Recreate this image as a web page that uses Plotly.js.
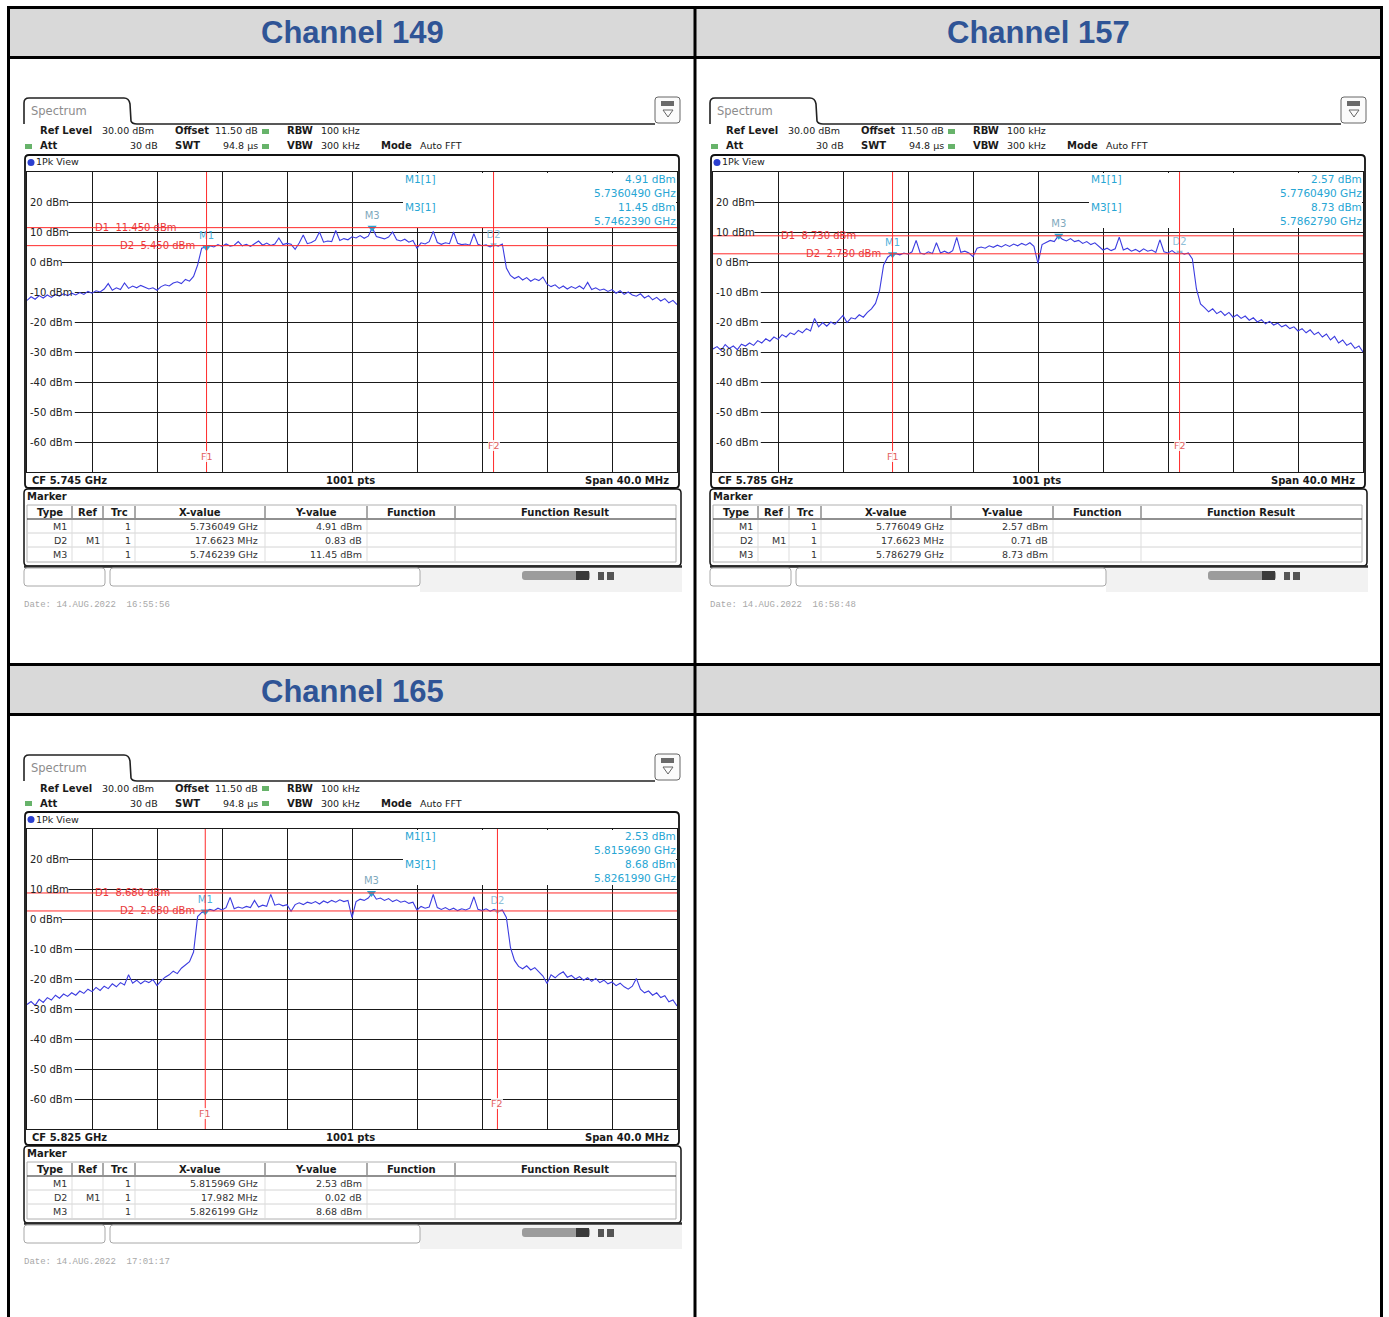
<!DOCTYPE html>
<html><head><meta charset="utf-8">
<script src="https://cdn.plot.ly/plotly-3.0.1.min.js"></script>
<style>html,body{margin:0;padding:0;background:#fff;}#chart{width:1389px;height:1317px;}</style>
</head><body><div id="chart"></div>
<script>
// ---------------- data ----------------
const channelTitles = ['Channel 149', 'Channel 157', 'Channel 165'];
const centerFreqGHz = [5.745, 5.785, 5.825];
const spanMHz = 40;
const sweepPointsLabel = '1001 pts';
const refLevelDbm = 30;
const bottomLevelDbm = -70;
const yTickLevels = [20, 10, 0, -10, -20, -30, -40, -50, -60];
const yTickLabels = ['20 dBm', '10 dBm', '0 dBm', '-10 dBm', '-20 dBm', '-30 dBm', '-40 dBm', '-50 dBm', '-60 dBm'];
const settingsLine1 = ['Ref Level', '30.00 dBm', 'Offset', '11.50 dB', 'RBW', '100 kHz'];
const settingsLine2 = ['Att', '30 dB', 'SWT', '94.8 µs', 'VBW', '300 kHz', 'Mode', 'Auto FFT'];

// trace samples, 0.25 MHz apart across the 40 MHz span (dBm)
const spectrum149 = [
-12.8,-11.6,-12.4,-11.2,-12.0,-11.0,-11.8,-10.8,-11.4,-10.6,
-11.2,-10.4,-11.0,-10.2,-10.8,-9.8,-10.4,-9.6,-10.0,-9.0,
-7.2,-9.4,-8.6,-9.2,-7.0,-8.8,-8.0,-8.6,-7.8,-8.4,
-9.0,-8.6,-9.4,-8.2,-7.6,-8.0,-7.0,-6.6,-7.2,-5.8,
-6.4,-4.8,-1.0,4.6,4.91,5.4,5.0,5.8,5.2,6.0,
5.3,5.6,6.8,5.4,5.9,5.2,6.1,7.0,5.6,6.3,
5.5,6.0,8.0,5.8,6.2,5.9,4.2,6.3,9.0,6.1,
6.5,7.3,10.0,6.6,7.0,6.8,10.5,7.2,7.8,7.4,
8.4,8.0,8.8,7.9,8.6,11.45,8.5,8.1,7.7,8.3,
10.0,7.4,7.0,7.6,6.6,7.2,4.6,6.4,6.0,6.8,
10.2,6.5,5.9,6.4,6.1,10.0,6.2,5.8,6.0,5.6,
9.4,5.9,5.4,5.7,5.0,5.74,5.3,6.0,-2.0,-4.5,
-5.5,-4.8,-6.0,-5.2,-6.4,-5.6,-6.2,-5.0,-7.4,-8.2,
-7.6,-8.8,-8.0,-9.0,-8.2,-8.8,-8.0,-9.0,-6.8,-9.2,
-8.6,-9.4,-9.0,-9.8,-9.2,-10.4,-9.6,-10.8,-10.0,-11.0,
-11.4,-10.6,-12.0,-11.2,-12.6,-11.8,-13.0,-12.2,-13.6,-12.8,
-14.2];
const spectrum157 = [
-29.0,-28.2,-29.5,-27.5,-28.8,-28.0,-29.2,-27.4,-28.0,-27.0,
-27.8,-26.2,-27.0,-25.6,-26.4,-25.0,-25.8,-24.2,-25.0,-23.6,
-24.2,-22.8,-23.6,-22.2,-23.0,-18.8,-21.6,-20.2,-21.4,-20.0,
-20.8,-19.4,-17.8,-20.2,-18.6,-19.0,-17.6,-18.4,-16.8,-15.6,
-13.8,-9.5,-1.0,1.6,2.57,2.8,2.4,3.0,2.6,3.4,
7.2,3.0,2.6,3.4,2.8,6.4,3.0,3.6,2.9,3.8,
8.2,3.2,3.6,3.0,1.8,4.6,5.0,4.6,5.4,4.9,
5.6,5.0,5.8,5.2,6.0,5.4,6.2,5.6,6.4,5.2,
-0.5,5.8,6.6,7.2,6.8,8.73,7.6,7.0,7.8,6.8,
7.2,6.2,6.8,5.8,6.4,5.2,4.0,4.6,3.8,4.4,
8.3,4.0,4.6,3.6,4.2,3.4,4.4,3.6,4.0,3.2,
7.4,3.4,3.0,3.8,2.8,3.28,2.6,3.0,1.0,-9.0,
-14.0,-15.2,-16.6,-15.6,-17.2,-16.4,-17.8,-16.8,-18.4,-17.6,
-18.8,-18.0,-19.4,-18.6,-20.0,-19.2,-20.6,-19.8,-21.0,-20.4,
-21.6,-21.0,-22.2,-21.6,-23.0,-22.2,-23.6,-22.6,-24.2,-23.4,
-25.0,-24.0,-26.0,-24.8,-27.0,-26.0,-27.8,-27.0,-28.8,-28.0,
-30.0];
const spectrum165 = [
-28.5,-27.5,-28.8,-26.8,-27.8,-26.2,-27.0,-25.4,-26.4,-25.0,
-25.8,-24.6,-25.4,-24.0,-24.8,-23.4,-24.2,-22.8,-23.8,-22.4,
-23.2,-21.6,-22.6,-21.2,-22.0,-18.6,-21.4,-20.4,-21.6,-20.6,
-21.2,-20.2,-22.2,-20.6,-19.4,-18.6,-17.4,-18.2,-16.4,-15.2,
-14.2,-11.0,0.8,2.2,2.53,3.2,2.8,3.6,3.0,3.8,
7.2,3.4,4.0,3.6,4.2,3.8,6.2,4.0,4.6,4.2,
8.2,4.6,5.0,4.4,4.8,2.6,4.8,5.4,4.8,5.6,
5.2,5.8,5.0,6.0,5.4,6.2,5.6,6.4,5.8,6.2,
0.5,5.8,6.6,6.2,7.0,8.68,6.6,7.0,6.2,6.8,
5.8,6.4,5.6,6.0,5.2,5.6,3.0,4.2,3.6,4.0,
8.2,3.8,3.2,3.8,3.0,3.6,2.8,3.4,3.0,3.6,
7.4,3.2,2.8,3.4,2.6,3.2,2.55,3.0,0.5,-9.5,
-13.8,-15.8,-16.6,-15.6,-17.0,-16.2,-17.6,-19.0,-21.5,-18.6,
-19.6,-18.4,-17.6,-19.4,-18.8,-20.0,-19.2,-20.4,-19.6,-20.8,
-19.8,-21.2,-20.4,-21.6,-21.0,-22.2,-21.4,-22.6,-23.4,-22.4,
-19.8,-23.4,-24.6,-24.0,-25.4,-24.6,-26.2,-25.6,-27.6,-27.0,
-29.0];
const spectra = [spectrum149, spectrum157, spectrum165];

const d1LevelDbm = [11.45, 8.73, 8.68];
const d2LevelDbm = [5.45, 2.73, 2.68];
const m1FreqGHz = [5.736049, 5.776049, 5.815969];
const m1LevelDbm = [4.91, 2.57, 2.53];
const d2DeltaMHz = [17.6623, 17.6623, 17.982];
const d2DeltaDb = [0.83, 0.71, 0.02];
const m3FreqGHz = [5.746239, 5.786279, 5.826199];
const m3LevelDbm = [11.45, 8.73, 8.68];
const dateStamps = ['Date: 14.AUG.2022  16:55:56', 'Date: 14.AUG.2022  16:58:48', 'Date: 14.AUG.2022  17:01:17'];
const tableHeaders = ['Type', 'Ref', 'Trc', 'X-value', 'Y-value', 'Function', 'Function Result'];

// ---------------- layout helpers ----------------
const W = 1389, H = 1317;
const px = v => v / W;
const py = v => 1 - v / H;
const FONT = 'DejaVu Sans, Verdana, sans-serif';
const MONO = 'Liberation Mono, DejaVu Sans Mono, monospace';
const GRID = '#1a1a1a';
const RED = '#ff2b2b';
const CYAN = '#27a6d4';
const shapes = [], annotations = [], traces = [];

function ann(x, y, text, o) {
  o = o || {};
  const xr = o.xref || 'paper', yr = o.yref || 'paper';
  annotations.push({
    xref: xr, yref: yr, x: xr === 'paper' ? px(x) : x, y: yr === 'paper' ? py(y) : y,
    text: text, showarrow: false, xanchor: o.xa || 'left', yanchor: o.ya || 'middle',
    font: { family: o.f || FONT, size: o.s || 10, color: o.c || '#1a1a1a' },
    bgcolor: o.bg || 'rgba(0,0,0,0)', borderpad: 0, borderwidth: 0
  });
}
function rectPx(x0, y0, x1, y1, o) {
  shapes.push({ type: 'rect', xref: 'paper', yref: 'paper', x0: px(x0), x1: px(x1), y0: py(y1), y1: py(y0),
    line: { color: o.lc || 'rgba(0,0,0,0)', width: o.lw || 0 }, fillcolor: o.fc || 'rgba(0,0,0,0)', layer: 'above' });
}
function linePx(x0, y0, x1, y1, color, width) {
  shapes.push({ type: 'line', xref: 'paper', yref: 'paper', x0: px(x0), y0: py(y0), x1: px(x1), y1: py(y1),
    line: { color: color, width: width }, layer: 'above' });
}
const P = (x, y) => px(x) + ',' + py(y);
function pathPx(d, o) {
  shapes.push({ type: 'path', xref: 'paper', yref: 'paper', path: d,
    line: { color: o.lc || 'rgba(0,0,0,0)', width: o.lw || 0 }, fillcolor: o.fc || 'rgba(0,0,0,0)', layer: 'above' });
}
function rrect(x0, y0, x1, y1, r, o) {
  const d = 'M' + P(x0 + r, y0) + ' L' + P(x1 - r, y0) + ' Q' + P(x1, y0) + ' ' + P(x1, y0 + r) +
    ' L' + P(x1, y1 - r) + ' Q' + P(x1, y1) + ' ' + P(x1 - r, y1) + ' L' + P(x0 + r, y1) +
    ' Q' + P(x0, y1) + ' ' + P(x0, y1 - r) + ' L' + P(x0, y0 + r) + ' Q' + P(x0, y0) + ' ' + P(x0 + r, y0) + ' Z';
  pathPx(d, o);
}

const layout = {
  width: W, height: H, margin: { l: 0, r: 0, t: 0, b: 0 },
  paper_bgcolor: '#ffffff', plot_bgcolor: 'rgba(0,0,0,0)', showlegend: false,
  shapes: shapes, annotations: annotations
};

// ---------------- document table ----------------
rectPx(9.5, 9, 1380, 56.5, { fc: '#d9d9d9' });
rectPx(9.5, 665.5, 1380, 713.5, { fc: '#d9d9d9' });
[7.5, 57.5, 664.5, 714.5].forEach(y => linePx(7, y, 1383, y, '#000', 3));
[8.5, 695, 1381.5].forEach(x => linePx(x, 6, x, 1317, '#000', 3));
const titlePos = [[352, 33], [1038, 33], [352, 691]];
channelTitles.forEach((t, i) => ann(titlePos[i][0], titlePos[i][1], '<b>' + t + '</b>',
  { xa: 'center', s: 31, c: '#2F5496', f: 'Liberation Sans, Arial, sans-serif' }));

// ---------------- analyzer screenshots ----------------
const panelDX = [0, 686, 0], panelDY = [0, 0, 657];

function drawPanel(p) {
  const dx = panelDX[p], dy = panelDY[p];
  const X = v => v + dx, Y = v => v + dy;
  const s = p === 0 ? '' : String(p + 1);
  const xa = 'x' + s, ya = 'y' + s;
  const cf = centerFreqGHz[p];
  const half = spanMHz / 2000;
  const f0 = cf - half, f1 = cf + half;
  const gx0 = X(27), gx1 = X(677), gy0 = Y(172), gy1 = Y(472);
  const fAt = xp => f0 + (xp - gx0) / (gx1 - gx0) * (f1 - f0);

  const axCommon = { showgrid: true, gridcolor: GRID, gridwidth: 1, zeroline: false, showline: true, mirror: true,
    linecolor: GRID, linewidth: 1, ticks: '', showticklabels: false, fixedrange: true };
  layout['xaxis' + s] = Object.assign({ domain: [px(gx0), px(gx1)], anchor: ya, range: [f0, f1], tick0: f0, dtick: spanMHz / 10 / 1000 }, axCommon);
  layout['yaxis' + s] = Object.assign({ domain: [py(gy1), py(gy0)], anchor: xa, range: [bottomLevelDbm, refLevelDbm], tick0: 0, dtick: 10 }, axCommon);

  // tab + header rule + icon
  pathPx('M' + P(X(24), Y(124)) + ' L' + P(X(24), Y(103)) + ' Q' + P(X(24), Y(98)) + ' ' + P(X(29), Y(98)) +
    ' L' + P(X(124), Y(98)) + ' Q' + P(X(129), Y(98)) + ' ' + P(X(130), Y(104)) + ' L' + P(X(131), Y(121)) +
    ' Q' + P(X(132), Y(124)) + ' ' + P(X(137), Y(124)) + ' L' + P(X(655), Y(124)), { lc: '#222', lw: 1.6 });
  ann(X(31), Y(111), 'Spectrum', { s: 11.5, c: '#8c8c8c' });
  rrect(X(655), Y(97), X(680), Y(123), 3, { lc: '#666', lw: 1, fc: '#fbfbfb' });
  rectPx(X(661), Y(101), X(674), Y(106), { fc: '#6a6a6a' });
  pathPx('M' + P(X(663), Y(110)) + ' L' + P(X(673), Y(110)) + ' L' + P(X(668), Y(117)) + ' Z', { lc: '#666', lw: 1 });

  // settings lines
  ann(X(40), Y(131), '<b>' + settingsLine1[0] + '</b>');
  ann(X(102), Y(131), settingsLine1[1], { s: 9.5 });
  ann(X(175), Y(131), '<b>' + settingsLine1[2] + '</b>');
  ann(X(258), Y(131), settingsLine1[3], { xa: 'right', s: 9.5 });
  rectPx(X(262), Y(129), X(269), Y(134), { fc: '#67b36a' });
  ann(X(287), Y(131), '<b>' + settingsLine1[4] + '</b>');
  ann(X(321), Y(131), settingsLine1[5], { s: 9.5 });
  rectPx(X(25), Y(144), X(32), Y(149), { fc: '#67b36a' });
  ann(X(40), Y(146), '<b>' + settingsLine2[0] + '</b>');
  ann(X(158), Y(146), settingsLine2[1], { xa: 'right', s: 9.5 });
  ann(X(175), Y(146), '<b>' + settingsLine2[2] + '</b>');
  ann(X(258), Y(146), settingsLine2[3], { xa: 'right', s: 9.5 });
  rectPx(X(262), Y(144), X(269), Y(149), { fc: '#67b36a' });
  ann(X(287), Y(146), '<b>' + settingsLine2[4] + '</b>');
  ann(X(321), Y(146), settingsLine2[5], { s: 9.5 });
  ann(X(381), Y(146), '<b>' + settingsLine2[6] + '</b>');
  ann(X(420), Y(146), settingsLine2[7], { s: 9.5 });

  // frames
  rrect(X(25), Y(155), X(679), Y(488), 4, { lc: '#111', lw: 1.8 });
  shapes.push({ type: 'circle', xref: 'paper', yref: 'paper', x0: px(X(27.5)), x1: px(X(34.5)), y0: py(Y(166)), y1: py(Y(159)),
    fillcolor: '#2b3fd0', line: { width: 0 }, layer: 'above' });
  ann(X(36), Y(162), '1Pk View', { s: 9.5, c: '#222' });

  // y labels with gaps in the gridlines
  yTickLevels.forEach((lv, i) => {
    const endPx = X(30) + 6.4 * yTickLabels[i].length;
    shapes.push({ type: 'rect', xref: xa, yref: ya, x0: f0, x1: fAt(endPx), y0: lv - 1.8, y1: lv + 1.8,
      fillcolor: '#ffffff', line: { width: 0 }, layer: 'between' });
    ann(X(30), lv, yTickLabels[i], { yref: ya, s: 10, c: '#222' });
  });

  // spectrum trace
  const spec = spectra[p];
  const stepGHz = (f1 - f0) / (spec.length - 1);
  traces.push({ type: 'scatter', mode: 'lines', xaxis: xa, yaxis: ya,
    x: spec.map((v, i) => f0 + i * stepGHz), y: spec,
    line: { color: '#3c3ce0', width: 1.1 }, hoverinfo: 'skip' });

  // marker info box (covers gridlines)
  rectPx(X(403), Y(173), X(676), Y(228), { fc: '#ffffff' });

  // display lines D1 / D2, frequency lines F1 / F2
  const fF1 = m1FreqGHz[p];
  const fF2 = m1FreqGHz[p] + d2DeltaMHz[p] / 1000;
  [d1LevelDbm[p], d2LevelDbm[p]].forEach(lv => shapes.push({ type: 'line', xref: xa, yref: ya, x0: f0, x1: f1, y0: lv, y1: lv,
    line: { color: RED, width: 1 }, layer: 'above' }));
  [fF1, fF2].forEach(f => shapes.push({ type: 'line', xref: xa, yref: ya, x0: f, x1: f, y0: bottomLevelDbm, y1: refLevelDbm,
    line: { color: RED, width: 1 }, layer: 'above' }));
  ann(X(95), d1LevelDbm[p], 'D1  ' + d1LevelDbm[p].toFixed(3) + ' dBm', { yref: ya, s: 10, c: '#e8383a' });
  ann(X(120), d2LevelDbm[p], 'D2  ' + d2LevelDbm[p].toFixed(3) + ' dBm', { yref: ya, s: 10, c: '#e8383a' });
  ann(fF1, Y(456), 'F1', { xref: xa, xa: 'center', s: 9.5, c: '#e26060', bg: 'rgba(255,255,255,0.85)' });
  ann(fF2, Y(446), 'F2', { xref: xa, xa: 'center', s: 9.5, c: '#e26060', bg: 'rgba(255,255,255,0.85)' });

  // markers
  const mk = (f, lv, label, col, tcol, size) => traces.push({ type: 'scatter', mode: 'markers+text', xaxis: xa, yaxis: ya,
    x: [f], y: [lv], text: [label], textposition: 'top center', cliponaxis: false,
    textfont: { family: FONT, size: 10, color: tcol },
    marker: { symbol: 'triangle-down', size: size, color: col }, hoverinfo: 'skip' });
  mk(m1FreqGHz[p], m1LevelDbm[p], 'M1', CYAN, '#4fb2dc', 8);
  mk(fF2, m1LevelDbm[p] + d2DeltaDb[p], 'D2', '#8fc6e0', '#8fc0d8', 6);
  mk(m3FreqGHz[p], m3LevelDbm[p], 'M3', CYAN, '#7fa9bd', 8);

  // marker info text
  ann(X(405), Y(179), 'M1[1]', { s: 10.5, c: CYAN });
  ann(X(405), Y(207), 'M3[1]', { s: 10.5, c: CYAN });
  ann(X(676), Y(179), m1LevelDbm[p].toFixed(2) + ' dBm', { xa: 'right', s: 10.5, c: CYAN, bg: '#fff' });
  ann(X(676), Y(193), m1FreqGHz[p].toFixed(7) + ' GHz', { xa: 'right', s: 10.5, c: CYAN, bg: '#fff' });
  ann(X(676), Y(207), m3LevelDbm[p].toFixed(2) + ' dBm', { xa: 'right', s: 10.5, c: CYAN, bg: '#fff' });
  ann(X(676), Y(221), m3FreqGHz[p].toFixed(7) + ' GHz', { xa: 'right', s: 10.5, c: CYAN, bg: '#fff' });

  // status bar
  ann(X(32), Y(480), '<b>CF ' + cf.toFixed(3) + ' GHz</b>', { s: 10 });
  ann(X(350), Y(480), '<b>' + sweepPointsLabel + '</b>', { xa: 'center', s: 10 });
  ann(X(669), Y(480), '<b>Span ' + spanMHz.toFixed(1) + ' MHz</b>', { xa: 'right', s: 10 });

  // marker table
  rrect(X(24), Y(489), X(681), Y(566), 4, { lc: '#111', lw: 1.5 });
  linePx(X(24), Y(566.5), X(682), Y(566.5), '#2a2a2a', 2.5);
  rectPx(X(420), Y(568), X(682), Y(592), { fc: 'rgba(0,0,0,0.05)' });
  ann(X(27), Y(496), '<b>Marker</b>', { s: 10 });
  rectPx(X(27), Y(505), X(676), Y(562), { lc: '#b0b0b0', lw: 1 });
  linePx(X(27), Y(519), X(676), Y(519), '#222', 1.2);
  [533, 547].forEach(y => linePx(X(27), Y(y), X(676), Y(y), '#d4d4d4', 1));
  const colSep = [72, 103, 135, 265, 367, 455];
  colSep.forEach(x => { linePx(X(x), Y(506), X(x), Y(518), '#555', 1); linePx(X(x), Y(520), X(x), Y(561), '#dddddd', 1); });
  const headCenters = [50, 87.5, 119, 200, 316, 411, 565];
  tableHeaders.forEach((h, i) => ann(X(headCenters[i]), Y(512), '<b>' + h + '</b>', { xa: 'center', s: 10 }));
  const rows = [
    ['M1', '', '1', m1FreqGHz[p].toFixed(6) + ' GHz', m1LevelDbm[p].toFixed(2) + ' dBm'],
    ['D2', 'M1', '1', String(d2DeltaMHz[p]) + ' MHz', d2DeltaDb[p].toFixed(2) + ' dB'],
    ['M3', '', '1', m3FreqGHz[p].toFixed(6) + ' GHz', m3LevelDbm[p].toFixed(2) + ' dBm']];
  const rightEdges = [67, 100, 131, 258, 362];
  rows.forEach((r, ri) => r.forEach((c, ci) => { if (c) ann(X(rightEdges[ci]), Y(526 + 14 * ri), c, { xa: 'right', s: 9.5, c: '#333' }); }));

  // soft keys / status widgets
  rrect(X(24), Y(568), X(105), Y(586), 3, { lc: '#a8a8a8', lw: 1, fc: '#fff' });
  rrect(X(110), Y(568), X(420), Y(586), 3, { lc: '#a8a8a8', lw: 1, fc: '#fff' });
  rrect(X(522), Y(571), X(590), Y(580), 3, { fc: '#9c9c9c' });
  rectPx(X(576), Y(571), X(589), Y(580), { fc: '#3a3a3a' });
  rectPx(X(598), Y(572), X(604), Y(580), { fc: '#555' });
  rectPx(X(607), Y(572), X(614), Y(580), { fc: '#555' });

  ann(X(24), Y(605), dateStamps[p], { f: MONO, s: 9, c: '#a8a8a8' });
}
[0, 1, 2].forEach(drawPanel);

Plotly.newPlot('chart', traces, layout, { displayModeBar: false, staticPlot: true });
</script>
</body></html>
